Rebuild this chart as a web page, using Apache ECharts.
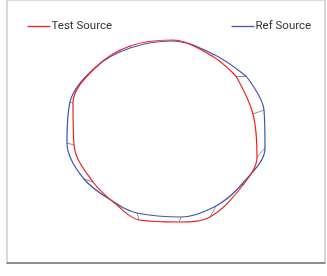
<!DOCTYPE html>
<html>
<head>
<meta charset="utf-8">
<script src="https://cdn.jsdelivr.net/npm/echarts@6/dist/echarts.min.js"></script>
<style>
  html, body { margin: 0; padding: 0; background: #fff; }
  #chart { width: 327px; height: 276px; }
</style>
</head>
<body>
<div id="chart"></div>
<script>
// points, centre of the loop = (0,0)
var testX = [70, 87, 91, 77, 44, 13, -27, -48, -73, -92, -93, -70, -36, 6, 46];
var testY = [54, 16, -27, -55, -87, -92, -90, -76, -52, -15, 27, 63, 84, 90, 74];
var refX = [80, 98, 99, 76, 50, 15, -29, -49, -82, -99, -96, -70, -36, 6, 47];
var refY = [54, 20, -18, -54, -76, -87, -83, -74, -49, -13, 28, 63, 82, 89, 76];

var RED = '#f21c1c';
var BLUE = '#3c56ae';

var loop = function (xs, ys) {
  var pts = xs.map(function (x, i) { return [x, ys[i]]; });
  pts.push(pts[0]);
  return pts;
};

var links = testX.map(function (x, i) {
  return { coords: [[x, testY[i]], [refX[i], refY[i]]] };
});

// legend drawn by hand: the line sits on the text baseline, text right after it
var legendItem = function (left, label, color) {
  return {
    type: 'group',
    left: left,
    top: 20,
    children: [
      { type: 'line', shape: { x1: 0, y1: 8.5, x2: 23, y2: 8.5 }, style: { stroke: color, lineWidth: 1.3 } },
      { type: 'text', x: 24, y: 2, style: { text: label, fill: '#333', font: '11.5px Roboto' } }
    ]
  };
};

var myChart = echarts.init(document.getElementById('chart'));
myChart.setOption({
  animation: false,
  graphic: [
    legendItem(25, 'Test Source', RED),
    legendItem(229, 'Ref Source', BLUE)
  ],
  grid: { left: 7, right: 2, top: 0, bottom: 13, show: true, borderColor: '#b4b4b4', borderWidth: 1 },
  xAxis: {
    type: 'value', min: -159, max: 159,
    axisLine: { show: true, onZero: false, lineStyle: { color: '#777', width: 1.5 } },
    axisTick: { show: false }, axisLabel: { show: false }, splitLine: { show: false }
  },
  yAxis: {
    type: 'value', min: -133, max: 130,
    axisLine: { show: false }, axisTick: { show: false }, axisLabel: { show: false }, splitLine: { show: false }
  },
  series: [
    {
      type: 'lines',
      coordinateSystem: 'cartesian2d',
      silent: true,
      lineStyle: { color: '#8a8fa0', width: 1, opacity: 1 },
      data: links
    },
    {
      name: 'Ref Source',
      type: 'line',
      smooth: 0.35,
      showSymbol: false,
      color: BLUE,
      lineStyle: { width: 1.2 },
      data: loop(refX, refY)
    },
    {
      name: 'Test Source',
      type: 'line',
      smooth: 0.35,
      showSymbol: false,
      color: RED,
      lineStyle: { width: 1.2 },
      data: loop(testX, testY)
    }
  ]
});
</script>
</body>
</html>
